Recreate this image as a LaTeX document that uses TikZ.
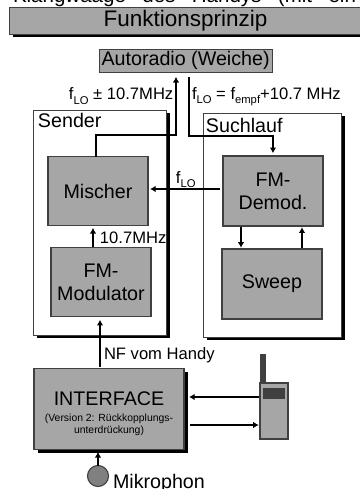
\documentclass[tikz,border=0pt]{standalone}
\usepackage{fontspec}
\setmainfont{Liberation Sans}
\usepackage{pgf,tikz}
\usetikzlibrary{arrows.meta}
\usetikzlibrary{shadows}
\definecolor{boxgray}{HTML}{A6A6A6}
\definecolor{edgegray}{HTML}{404040}
\newcommand{\bigtxt}{\fontsize{14}{16.5}\selectfont}
\newcommand{\midtxt}{\fontsize{11.8}{14}\selectfont}
\newcommand{\smalltxt}{\fontsize{7.4}{8.6}\selectfont}
\newcommand{\lowtxt}[1]{\raisebox{-0.5ex}{\fontsize{8}{9}\selectfont #1}}
\tikzset{
  blockbox/.style={draw=edgegray,fill=boxgray,line width=0.8pt,inner sep=0pt,outer sep=0pt,align=center},
  framebox/.style={draw=edgegray,fill=white,line width=0.6pt,inner sep=0pt,outer sep=0pt},
  blackshade/.style={general shadow={fill=black,shadow xshift=0.09cm,shadow yshift=-0.08cm}},
  boxtext/.style={anchor=base west,inner sep=0pt,outer sep=0pt},
  signal/.style={->,line width=0.8pt,color=black}
}
\begin{document}
\begin{tikzpicture}[line cap=butt,line join=miter,>={Latex[length=4pt,width=4.6pt]},x=1.0cm,y=1.0cm,font=\bigtxt]
\useasboundingbox (0,0) rectangle (9,12.225);
\clip (0,0) rectangle (9,12.225);
\node[boxtext] (headline) at (0.325,12.15) {\makebox[8.575cm][s]{\fontsize{14.6}{16}\selectfont Klangwaage\hfill des\hfill Handys\hfill (mit\hfill ein}};
\node[blockbox,blackshade,minimum width=8.81cm,minimum height=0.675cm,font=\fontsize{16}{18}\selectfont] (title) at (4.64,11.71) {Funktionsprinzip};
\node[blockbox,minimum width=4.325cm,minimum height=0.575cm] (autoradio) at (4.64,10.71) {Autoradio (Weiche)};
% outer frames
\node[framebox,blackshade,minimum width=3.325cm,minimum height=5.625cm] (sender) at (2.51,6.66) {};
\node[framebox,blackshade,minimum width=3.45cm,minimum height=5.6cm] (suchlauf) at (6.8,6.6) {};
\node[boxtext] (senderlabel) at (0.95,9.03) {Sender};
\node[boxtext] (suchlauflabel) at (5.15,8.925) {Suchlauf};
% blocks
\node[blockbox,minimum width=2.5cm,minimum height=1.725cm] (mischer) at (2.45,7.44) {Mischer};
\node[blockbox,minimum width=2.5cm,minimum height=1.75cm] (demod) at (6.825,7.45) {FM-\\Demod.};
\node[blockbox,minimum width=2.5cm,minimum height=1.74cm] (modulator) at (2.525,5.175) {FM-\\Modulator};
\node[blockbox,minimum width=2.5cm,minimum height=1.75cm] (sweep) at (6.8,5.125) {Sweep};
\node[blockbox,blackshade,minimum width=3.75cm,minimum height=2.025cm] (interface) at (2.725,1.99) {\rule{0pt}{16pt}INTERFACE\\[-5.6pt]{\smalltxt (Version 2: Rückkopplungs-}\\[-8pt]{\smalltxt unterdrückung)}};
% handy
\node[blockbox,fill=edgegray,minimum width=0.1cm,minimum height=0.7cm] (antenna) at (6.575,3.0) {};
\node[blockbox,minimum width=0.7cm,minimum height=1.4cm] (handy) at (6.85,1.95) {};
\node[blockbox,fill=edgegray,minimum width=0.5cm,minimum height=0.225cm] (display) at (6.85,2.3875) {};
\node[blockbox,circle,fill=gray,minimum size=0.525cm] (mikro) at (2.45,0.325) {};
\node[boxtext] (mikrolabel) at (2.825,0.025) {Mikrophon};
% labels
\node[boxtext,font=\midtxt] (lolabel) at (1.725,9.725) {f\lowtxt{LO} ± 10.7MHz};
\node[boxtext,font=\midtxt] (emprlabel) at (4.8,9.75) {f\lowtxt{LO} = f\lowtxt{empf}+10.7 MHz};
\node[boxtext,font=\midtxt] (flolabel) at (4.4,7.65) {f\lowtxt{LO}};
\node[boxtext,font=\midtxt] (zflabel) at (2.5,6.15) {10.7MHz};
\node[boxtext,font=\midtxt] (nflabel) at (2.6,3.25) {NF vom Handy};
% bends and line heights
\coordinate (sendup) at (4.4,8.85);
\coordinate (tunedown) at (4.725,8.825);
\coordinate (floline) at (4.6,7.5);
\coordinate (zfline) at (2.325,6);
\coordinate (sweepdown) at (6.025,6);
\coordinate (sweepup) at (7.55,6);
\coordinate (nfline) at (2.5,3.5);
\coordinate (handyin) at (5.6,2.3);
\coordinate (handyout) at (5.6,1.6);
% connectors
\draw[signal,shorten >=0.12cm] ([xshift=-0.05cm]mischer.north) |- (sendup) -- (autoradio.south -| sendup);
\draw[signal,shorten <=0.12cm,shorten >=0.07cm] (autoradio.south -| tunedown) -- (tunedown) -| (demod.north);
\draw[signal,shorten <=0.07cm,shorten >=0.05cm] (demod.west |- floline) -- (mischer.east |- floline);
\draw[signal,shorten >=0.05cm] (modulator.north -| zfline) -- (mischer.south -| zfline);
\draw[signal,shorten <=0.03cm,shorten >=0.03cm] (demod.south -| sweepdown) -- (sweep.north -| sweepdown);
\draw[signal,shorten <=0.03cm,shorten >=0.03cm] (sweep.north -| sweepup) -- (demod.south -| sweepup);
\draw[signal,shorten <=0.05cm,shorten >=0.075cm] (interface.north -| nfline) -- (modulator.south -| nfline);
\draw[signal,shorten <=0.03cm,shorten >=0.125cm] (handy.west |- handyin) -- (interface.east |- handyin);
\draw[signal,shorten <=0.15cm,shorten >=0.03cm] (interface.east |- handyout) -- (handy.west |- handyout);
\draw[signal,shorten >=0.05cm] (mikro.north) -- (interface.south -| mikro.north);
\end{tikzpicture}
\end{document}
